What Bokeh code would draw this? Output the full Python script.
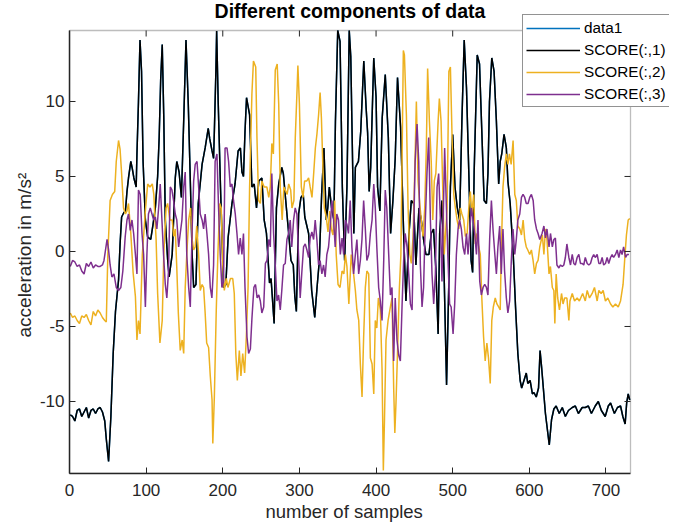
import math
from bokeh.plotting import figure
from bokeh.models import (Range1d, FixedTicker, Legend, LegendItem, BoxAnnotation, Label, Title)
from bokeh.embed import file_html
from bokeh.resources import INLINE

# ---------------- data ----------------
x_ticks = [0, 100, 200, 300, 400, 500, 600, 700]
y_ticks = [-10, -5, 0, 5, 10]
x_lim = [0, 732]
y_lim = [-14.8, 14.73]

score1_x = [1, 4, 7, 10, 13, 16, 19, 22, 25, 28, 31, 34, 37, 40, 43, 46,
            48, 51, 54, 57, 60, 64, 66, 68, 71, 73, 75, 77, 80, 82, 84, 87, 88, 90, 92, 94, 96, 99,
            102, 106, 109, 112, 115, 117, 119, 121, 123, 125, 128, 130, 134, 138, 140, 143, 146, 149,
            152, 155, 158, 160, 162, 165, 168, 173, 177, 181, 183, 186, 188, 189, 191, 192, 194, 197,
            201, 204, 207, 212, 216, 220, 223, 225, 227, 229, 231, 235, 238, 241, 244, 247, 251, 254,
            257, 261, 263, 267, 270, 273, 277, 279, 283, 286, 289, 292, 294, 296, 299, 302, 305, 307,
            312, 316, 320, 323, 326, 329, 332, 335, 337, 339, 342, 345, 347, 350, 353, 356, 359, 362,
            365, 367, 371, 373, 377, 380, 384, 387, 389, 391, 393, 397, 400, 402, 405, 408, 412, 416,
            419, 422, 425, 428, 432, 436, 439, 443, 446, 449, 452, 456, 459, 462, 465, 469, 472, 475,
            478, 481, 483, 486, 489, 492, 495, 497, 500, 503, 506, 509, 512, 515, 518, 521, 524, 526,
            528, 532, 535, 538, 541, 544, 546, 548, 551, 554, 557, 560, 562, 564, 567, 570, 572, 575,
            579, 582, 585, 588, 590, 593, 596, 598, 601, 604, 606, 609, 612, 614, 616, 621, 626, 629,
            632, 635, 639, 643, 647, 651, 656, 660, 664, 669, 673, 677, 681, 686, 690, 694, 699, 703,
            706, 711, 715, 719, 722, 725, 727, 729, 731]
score1_y = [-10.9, -11.0, -11.3, -10.6, -10.5, -11.0, -10.7, -10.4, -11.1, -10.6, -10.5, -10.8, -10.5, -10.4, -10.7, -11.3,
            -12.5, -14.0, -11.0, -6.8, -4.0, -1.9, 0.5, 2.3, 2.6, 2.7, 4.0, 4.9, 6.0, 5.5, 4.9, 4.3, 6.5, 10.0, 14.1, 12.0, 6.0, 2.1,
            0.95, 0.8, 1.8, 2.9, 5.0, 7.6, 11.5, 13.8, 9.0, 2.1, -0.5, -1.7, -0.2, 4.9, 6.0, 5.3, 3.6, 8.7,
            14.1, 9.8, 4.0, -0.2, -2.4, -2.2, 3.2, 5.8, 6.9, 8.2, 7.5, 6.7, 6.2, 8.0, 12.0, 14.7, 10.0, 4.3,
            -2.4, -2.2, 0.95, 3.2, 4.5, 6.7, 6.9, 5.3, 5.0, 8.0, 10.25, 9.1, 4.3, 4.5, 2.9, 4.7, 4.9, 2.1,
            1.2, -2.1, -1.8, -4.8, 2.9, 4.5, 5.6, 5.2, 2.9, 1.2, -0.6, -0.9, -3.0, -4.0, 2.5, 3.6, 3.8, 2.3,
            1.2, -2.6, -4.4, -2.4, -0.6, 3.8, 6.9, 2.1, 2.9, 4.3, 2.9, 2.1, 8.7, 14.73, 14.0, 4.3, -0.6, 4.3,
            14.73, 13.0, 1.2, 5.6, 6.0, 8.0, 12.7, 9.6, 7.9, 4.0, 5.6, 12.9, 10.3, 4.3, 2.7, 8.9, 11.8, 7.6,
            1.2, 3.4, 6.2, 11.6, 8.3, 1.2, -3.3, 1.2, 3.4, 3.2, -0.9, 2.9, 2.1, 0.8, -0.2, -0.2, 1.2, 1.5,
            -1.1, -5.5, 1.2, 3.4, -2.0, -8.9, -2.0, 4.3, 7.8, 4.3, 2.9, 2.1, 8.7, 14.1, 10.9, 5.3, -0.6, -1.4,
            5.3, 13.1, 12.5, 8.0, 3.4, 3.2, 5.2, 10.0, 12.9, 12.0, 8.7, 4.5, 6.0, 6.5, 7.8, 6.9, 4.7, 3.2,
            -0.2, -3.7, -6.8, -8.6, -9.1, -8.6, -8.1, -8.8, -8.6, -9.5, -9.4, -9.7, -9.1, -6.6, -7.7, -10.8, -12.9, -11.2,
            -10.5, -10.3, -10.8, -10.4, -11.0, -10.6, -10.4, -10.3, -10.8, -10.4, -10.4, -10.3, -10.8, -10.3, -10.0, -10.6, -11.0, -10.3,
            -10.1, -10.8, -10.4, -10.3, -11.0, -11.5, -10.1, -9.5, -9.9]

score2_x = [1, 4, 7, 10, 13, 16, 19, 22, 25, 28, 31, 34, 37, 40, 43, 46, 48,
            50, 53, 56, 59, 61, 64, 66, 68, 70.5, 73, 75, 77, 80, 83, 86, 88, 90, 92, 95, 99, 102, 105,
            108, 110, 113, 115, 118, 121, 123, 126, 128, 131, 134, 136, 138, 140, 142, 144.5, 147, 149,
            151, 153, 155.5, 158, 160, 162, 164, 166, 168.5, 170.6, 173, 175, 177, 179, 181.5, 183.7,
            186, 187, 189, 191.5, 193.6, 196, 198, 200, 202, 204.6, 206.7, 210, 213, 215, 217, 219,
            221.6, 223.7, 226, 228.5, 230.7, 233, 235, 238, 240, 243, 244.6, 246.7, 249, 251, 254,
            257.5, 260, 262, 264, 266, 268.5, 271, 273, 275, 277.5, 279.7, 281.6, 284, 286, 288.6,
            290.3, 292.8, 294.6, 297, 298, 300, 302.5, 304.6, 306.8, 309.7, 312, 314, 316.4, 318.6,
            320.8, 322.8, 325, 327, 328.7, 330.8, 332.5, 335, 337.3, 339.4, 341.6, 343.8, 346, 348,
            350.4, 353, 355.6, 358, 360, 362, 364.5, 367.6, 370.7, 373, 375, 377.4, 379.5, 381.7,
            383.8, 386, 388, 390.4, 392.6, 394.8, 397, 399, 401, 403, 405.6, 407.8, 409.5, 411, 413,
            415.7, 418.7, 420.8, 423, 424.5, 426, 428.2, 430.3, 432.4, 434, 435.6, 437, 439.6, 441.8,
            444, 446, 448.3, 450.5, 452.6, 454.8, 457, 459, 461.3, 463.5, 465.6, 467.3, 469.6, 472,
            474, 476, 478, 481, 482.6, 484.8, 487, 489, 492.7, 495, 497, 499.3, 501.4, 503.5, 505.7,
            508, 510, 512, 514.4, 516.6, 518.8, 521, 523, 525, 527.4, 529.5, 531.7, 534, 536, 538,
            540.3, 542.4, 544.6, 546.7, 549, 551, 553, 555.5, 557.7, 560, 562, 563.3, 565.6, 567.7,
            570, 572, 574, 576.3, 578.8, 581, 583, 585, 587.6, 589.7, 591.9, 594, 596, 598, 600.5,
            602.7, 604.9, 607, 609.3, 611.4, 613.6, 617, 619, 621, 623, 625.7, 627.5, 630, 632,
            633.3, 635, 637, 639.3, 642, 644, 646, 649, 651.6, 653, 656, 659, 662.4, 665.3, 669.6,
            673, 675.5, 678.5, 682, 685, 688.5, 690.7, 693.7, 696.3, 699.3, 702.4, 706, 709, 712.4,
            716, 719, 722.3, 724.6, 726.7, 729, 731]
score2_y = [-4.1, -4.4, -4.3, -4.6, -4.8, -4.3, -4.4, -4.2, -4.6, -4.9, -4.0, -4.3, -3.9, -4.1, -4.4, -4.6, -4.7,
            -0.2, 3.4, 3.8, 4.0, 6.0, 7.4, 6.8, 5.2, 2.9, 2.5, 2.7, 3.2, 1.2, -1.4, -3.0, -5.9, -4.6, -5.5, -0.2, 2.7, 4.5, 4.3,
            4.5, 3.8, 0.8, -2.8, -6.1, -4.6, -0.2, 2.9, 3.2, 2.1, 2.1, 1.0, 1.5, -1.1, -4.1, -6.6, -5.9, -6.8,
            -2.4, -0.2, 2.1, 2.9, 0.8, 0.1, 0.3, 1.7, -0.2, -2.6, -2.2, -2.4, -4.1, -6.1, -6.4, -8.3,
            -9.9, -12.8, -9.7, -3.9, -0.2, 3.2, 2.9, -0.9, -2.6, -1.8, -2.4, -1.8, -1.8, -2.8, -6.8, -8.6,
            -6.6, -8.3, -6.8, -8.1, -5.7, -2.4, 4.3, 10.5, 12.7, 12.3, 7.6, 3.4, 3.2, 4.7, 4.3,
            4.3, 3.6, 4.3, 7.2, 6.5, 12.1, 12.5, 9.8, 4.3, 2.1, 4.3, 4.1, 3.8, 4.5, 4.1,
            2.9, 3.4, 7.6, 10.9, 12.4, 9.8, 4.3, 3.6, 4.7, 4.7, 4.9, 4.3, 3.6, 5.2,
            6.9, 7.8, 9.1, 10.6, 8.9, 5.3, 2.9, 2.3, 1.3, 2.7, 1.5, 1.1, 3.4, -0.2,
            -2.2, -2.4, -1.3, -1.5, -0.2, -1.0, -3.5, -0.2, -1.5, -2.6, -3.9, -4.6, -7.5, -9.7,
            -5.7, -2.4, -1.3, -1.5, -7.1, -7.5, -9.5, -4.6, -5.1, -3.1, -3.9, -7.8, -14.6, -11.2, -5.9,
            -4.6, -3.7, -3.1, -9.1, -12.1, -10.1, -6.4, -2.6, -0.2, 6.5, 13.4, 13.1, 9.1, 2.9,
            -0.2, -0.8, 1.0, 5.3, 10.0, 4.7, 3.2, 2.1, 1.0, 2.9, 6.9, 12.2, 8.7, 6.0,
            2.1, 4.7, 5.2, 8.7, 10.2, 8.7, 4.3, -0.2, 2.9, 12.0, 12.3, 7.4, 3.8, 2.9, 2.1,
            1.5, 2.9, 2.5, 2.1, 1.0, 1.2, 2.9, 4.0, 2.5, 3.8, 0.5, 1.2, 0.3, -0.2, -3.1,
            -5.7, -7.3, -6.1, -7.1, -8.8, -4.6, -3.7, -3.1, -3.5, -3.7, -3.9, -0.2, 4.3, 5.6,
            6.5, 5.8, 6.5, 5.8, 7.4, 3.8, 3.4, 1.7, 1.5, 1.1, 2.1, 0.8, 0.3, 0.1, -0.2,
            0.1, -0.6, -1.5, -0.8, -0.6, 0.3, 1.1, -0.2, 1.5, 0.8, -1.5, -1.0, -2.4, -2.6,
            -4.8, -1.5, -3.1, -3.9, -2.8, -3.5, -3.1, -3.1, -4.6, -3.3, -2.8, -3.3, -3.1, -3.3, -2.8,
            -3.3, -2.6, -3.1, -2.8, -2.4, -3.3, -2.6, -2.8, -2.6, -3.3, -3.1, -3.5, -3.7, -3.5,
            -3.7, -3.3, -2.2, -0.4, 1.1, 2.1, 2.2]

score3_x = [1, 4, 7, 10, 13, 16, 19, 22, 25, 28, 31, 34, 37, 40, 43, 45, 47, 49, 51, 53, 55.3,
            58, 61, 64, 67, 69.6, 72.7, 75, 77, 79.3, 81.5, 83.7, 86, 88, 90, 92.3, 94.6, 96.7, 99,
            101, 103, 105.4, 107.6, 109.8, 112, 114, 116.3, 118.4, 120.6, 122.7, 125, 127, 129.2,
            131.5, 133.6, 135.8, 138, 140, 142.4, 144.5, 146.7, 149, 151, 153, 155.5, 157.6, 160,
            162, 164, 166.4, 168.5, 170.6, 173, 175, 177, 179.3, 181.5, 183.7, 185.8, 188, 190,
            192.4, 194.5, 196.7, 198.8, 201, 203, 205.5, 207.6, 209.8, 212, 214, 216.3, 218.5,
            220.6, 222.8, 225, 227, 229, 231.6, 233.7, 236, 238, 240.6, 242.7, 244.8, 247, 249,
            251, 253.4, 255.6, 257.7, 260, 262, 264, 266.3, 268.5, 270.7, 272.8, 275, 277, 279.3,
            281.5, 283.7, 285.8, 288, 290, 292.4, 294.5, 296.7, 298.8, 301, 303, 305.4, 307.6,
            309.8, 312, 314, 316.3, 318.5, 320.6, 322.8, 325, 327, 329.3, 331.5, 333.6, 335.8,
            338, 340, 342.4, 344.6, 346.7, 348.8, 351, 353.4, 355.6, 357.7, 360, 362, 364, 366.3,
            368.5, 370.7, 373, 375, 377.3, 379.5, 381.6, 383.8, 386, 388, 390.4, 392.6, 394.8, 397,
            399, 401, 403.4, 405.6, 407.8, 410, 412, 414, 416.5, 418.7, 420.8, 423, 425, 427.3,
            429.5, 431.7, 434, 436, 438, 440.4, 442.6, 444.8, 447, 449, 451, 453.5, 455.7, 457.8,
            460, 462, 464.3, 466.5, 468.7, 470.9, 473, 475.2, 477.4, 479.6, 481.7, 484, 486, 489.5,
            493.6, 496, 498, 500.5, 502.6, 504.8, 507, 509, 511.3, 513.5, 515.7, 518, 520, 522,
            524.4, 526.6, 528.7, 531, 533, 535.3, 537.4, 539.6, 541.8, 544, 546, 548.3, 550.5,
            552.6, 555, 557, 559, 561.3, 563.4, 565.6, 567.7, 570, 572, 574.3, 576.5, 578.7, 581,
            583, 585, 587.5, 589.7, 591.8, 594, 596, 598.3, 600.5, 602.7, 605, 607, 609.3, 611.4,
            613.6, 616.6, 619, 621, 623, 625.7, 627.6, 630, 632, 634, 636, 638.6, 640.7, 643, 645,
            647, 649, 651.6, 653.7, 656, 658, 660, 662.4, 664.6, 666.7, 669, 671, 673, 675.5,
            677.6, 679.8, 682, 684, 686, 688.5, 690.7, 692.8, 695, 697, 699.3, 701.5, 703.6, 706,
            708, 710, 712.4, 714.6, 716.8, 719, 721, 723, 725.6, 727.7, 730]
score3_y = [-1.0, -0.6, -0.7, -1.0, -0.9, -1.3, -1.5, -0.8, -1.0, -0.7, -1.1, -0.9, -1.0, -1.0, -0.9, -0.6, 0.1, 0.8, 0.1, -0.9, -1.7,
            -1.5, -2.4, -2.6, -2.4, -1.3, 1.0, 2.1, 2.5, 1.4, 2.1, 1.2, -0.2, -1.5, 4.1, 3.8, 1.2, -0.2, -3.7,
            -0.2, 2.5, 2.9, 2.5, 2.1, 2.3, 1.5, 2.9, 4.5, 2.1, -0.2, -2.2, -3.1, -1.3,
            4.3, 4.1, 3.4, 2.5, 2.1, 0.3, 1.2, 2.1, 4.3, 5.3, -0.2, -2.4, -3.7, 1.5,
            4.7, 5.8, 6.0, 4.3, 2.5, 2.1, 1.5, 2.5, 1.2, -0.2, -2.4, -3.1, -0.9, 6.0,
            6.5, 2.9, -0.2, -2.4, -2.0, 6.9, 6.9, 6.0, 4.3, 4.5, 3.4, 2.5, 1.2,
            -0.2, 0.9, -0.2, 1.2, -2.4, -5.7, -6.8, -6.5, -4.5, -2.4, -2.2, -3.1, -2.9, -3.3,
            -4.1, -3.7, -0.8, -0.6, 0.8, 0.3, 5.2, 1.2, -0.9, -3.3, -2.9, -3.9, -2.6, -0.9,
            -0.8, 0.8, 1.2, 2.1, 0.3, 2.1, 2.9, 2.5, -0.2, -3.1, -1.5, 0.3, 0.5,
            0.1, -0.4, 0.9, 1.3, 0.8, 2.1, 0.8, -0.9, -0.6, -1.5, -0.9, -1.7, -0.2,
            0.3, 1.5, 3.4, 2.1, 0.3, 2.5, 2.1, -0.2, 0.9, -0.2, 2.1, 1.8, 1.2, 3.4,
            0.3, -1.5, -0.2, 0.8, -1.5, -0.6, 0.8, 3.4, 1.5, -0.6, -0.2, 1.2, 2.1, 4.5,
            2.9, 0.3, -2.4, -3.3, -4.6, -0.6, 4.1, 2.9, -0.2, -2.9, -2.4, -7.3, -3.1, -5.9,
            -6.9, -7.3, -3.5, -0.6, 1.2, 0.3, -1.5, -3.5, -3.9, 1.2, 6.0, 8.5, 6.0, -0.9,
            -3.7, -2.4, 2.1, 5.3, 7.6, 2.1, -1.5, -3.5, -1.5, 4.3, 5.2, 2.1, -2.0, 6.9,
            -0.2, -3.5, -3.7, -5.5, -3.5, -0.2, 1.5, 2.1, 1.5, 0.3, -0.2, 1.2, -0.2, 1.2,
            2.9, 2.1, 1.2, -0.2, 2.1, -2.0, -2.9, -2.4, -2.2, -2.4, -2.9, 0.9, 3.4,
            1.5, -0.2, -1.5, 0.3, 1.7, -1.5, 1.5, -1.3, -3.1, -4.1, -3.3, -0.6, 1.5, -0.2,
            0.8, 2.1, 2.5, 3.6, 3.8, 3.6, 3.2, 3.2, 3.6, 3.8, 3.4, 2.1, 1.5, 1.2,
            0.8, 1.2, 1.7, 0.9, 1.5, 0.3, 1.2, 0.3, 0.8, 0.9, -0.9, -1.1, -0.9, -1.0, -0.9,
            -0.4, 0.5, -0.4, -0.9, -0.2, -0.8, -0.9, -0.4, -0.2, -0.8, -0.8, -0.9, -0.4, -0.8,
            -0.9, -0.8, -0.4, -0.2, -0.4, -0.2, -0.8, -0.8, -0.4, -0.9, -0.8, -0.4, -0.8, -0.4,
            -0.2, -0.4, -0.2, 0.1, -0.4, 0.1, -0.2, 0.3, -0.4, -0.2, -0.2]

title_text = "Different components of data"
x_label = "number of samples"
y_label = "acceleration in m/s\u00b2"
legend_labels = ["data1", "SCORE(:,1)", "SCORE(:,2)", "SCORE(:,3)"]
colors = ["#0072BD", "#000000", "#EDB120", "#7E2F8E"]

FONT = "Liberation Sans"
AXC = "#262626"

# ---------------- layout (pixels) ----------------
W, H = 669, 523
BL, BB = 69, 50            # left / bottom panels (axes)
BOX_TOP_PX = 30            # axes box top, from canvas top
BOX_RIGHT_PX = 39          # axes box right, from canvas right
frame_w = W - BL
frame_h = H - BB
box_w = frame_w - BOX_RIGHT_PX
box_h = frame_h - BOX_TOP_PX
x_end = x_lim[1] + BOX_RIGHT_PX * (x_lim[1] - x_lim[0]) / box_w
y_end = y_lim[1] + BOX_TOP_PX * (y_lim[1] - y_lim[0]) / box_h
ppu_y = box_h / (y_lim[1] - y_lim[0])

p = figure(width=W, height=H, output_backend="svg", toolbar_location=None, title=None,
           x_range=Range1d(x_lim[0], x_end), y_range=Range1d(y_lim[0], y_end),
           min_border_left=BL, min_border_right=0, min_border_top=0, min_border_bottom=BB)
p.background_fill_color = "white"
p.border_fill_color = "white"
p.outline_line_color = None
p.xgrid.visible = False
p.ygrid.visible = False

def style_axis(ax, ticks):
    ax.ticker = FixedTicker(ticks=ticks)
    ax.major_tick_in = 6
    ax.major_tick_out = 0
    ax.minor_tick_line_color = None
    ax.major_tick_line_color = AXC
    ax.axis_line_color = AXC
    ax.axis_line_width = 1.5
    ax.major_label_text_font = FONT
    ax.major_label_text_color = AXC
    ax.major_label_text_font_size = "17px"

xa = p.xaxis[0]
style_axis(xa, x_ticks)
xa.bounds = (x_lim[0], x_lim[1])
xa.major_label_standoff = 10

ya = p.yaxis[0]
style_axis(ya, y_ticks)
ya.bounds = (y_lim[0], y_lim[1])
ya.major_label_standoff = 5
ya.major_label_overrides = {-10: "-10", -5: "-5"}

# axis labels as side titles, positioned along the axes box
xt = Title(text=x_label, align="left", offset=196, standoff=0,
           text_font=FONT, text_font_size="18.5px", text_font_style="normal", text_color=AXC)
p.add_layout(xt, "below")
yt = Title(text=y_label, align="left", offset=136, standoff=3,
           text_font=FONT, text_font_size="19px", text_font_style="normal", text_color=AXC)
p.add_layout(yt, "left")

# data lines
r0 = p.line(score1_x, score1_y, line_color=colors[0], line_width=1.5)
r1 = p.line(score1_x, score1_y, line_color=colors[1], line_width=1.5)
r2 = p.line(score2_x, score2_y, line_color=colors[2], line_width=1.5)
r3 = p.line(score3_x, score3_y, line_color=colors[3], line_width=1.5)

# axes box and mirrored inward ticks (top and right)
box = BoxAnnotation(left=x_lim[0], right=x_lim[1], bottom=y_lim[0], top=y_lim[1],
                    fill_color=None, line_color=AXC, line_width=1.3)
p.add_layout(box)
p.ray(x=x_ticks, y=[y_lim[1]] * len(x_ticks), length=6, length_units="screen",
      angle=-math.pi / 2, line_color=AXC, line_width=1)
p.ray(x=[x_lim[1]] * len(y_ticks), y=y_ticks, length=6, length_units="screen",
      angle=math.pi, line_color=AXC, line_width=1)

# title
title = Label(x=(x_lim[0] + x_lim[1]) / 2, y=y_lim[1] + (BOX_TOP_PX - 10.5) / ppu_y,
              text=title_text, text_align="center", text_baseline="middle",
              text_font=FONT, text_font_size="19.5px", text_font_style="bold", text_color="black")
p.add_layout(title)

legend = Legend(items=[LegendItem(label=legend_labels[i], renderers=[r])
                       for i, r in enumerate([r0, r1, r2, r3])],
                location=(453, frame_h - 107))
legend.label_text_font = FONT
legend.label_text_font_size = "15.3px"
legend.label_text_color = "black"
legend.glyph_width = 54
legend.glyph_height = 22
legend.label_height = 22
legend.label_standoff = 4
legend.spacing = 0
legend.padding = dict(left=3, right=3, top=2, bottom=1)
legend.margin = 0
legend.border_line_color = AXC
legend.border_line_width = 1.2
legend.background_fill_color = "white"
legend.background_fill_alpha = 1.0
p.add_layout(legend, "center")

open("out.html", "w").write(file_html(p, INLINE))
